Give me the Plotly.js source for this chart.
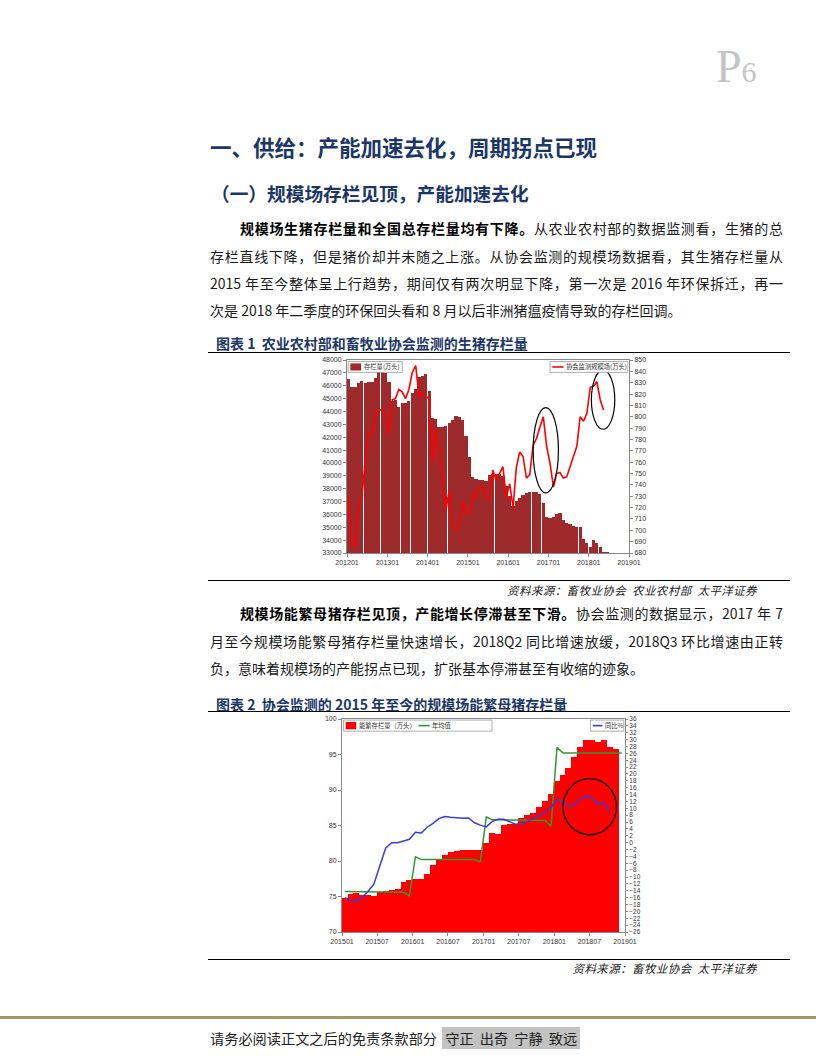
<!DOCTYPE html>
<html><head><meta charset="utf-8">
<script src="https://cdn.plot.ly/plotly-3.0.1.min.js"></script>
<style>
body{margin:0;background:#fff;}
#page{position:relative;width:816px;height:1056px;overflow:hidden;font-family:"Noto Sans CJK SC",sans-serif;color:#111;}
.abs{position:absolute;white-space:nowrap;}
.h1{left:210px;top:132px;font-size:21.5px;font-weight:700;color:#1b3768;line-height:30px;}
.h2{left:211px;top:180px;font-size:18.7px;font-weight:700;color:#1b3768;line-height:26px;}
.p{position:absolute;left:210px;width:573px;font-size:14px;line-height:20px;text-align:justify;text-align-last:justify;color:#1a1a1a;}
.p.last{text-align-last:left;}
.p.ind{left:240px;width:543px;}
.p b{font-weight:700;color:#000;}
.figt{left:216px;font-size:14px;font-weight:700;color:#1b3768;line-height:18px;}
.rule{position:absolute;left:208px;width:582px;height:1px;background:#000;}
.src{right:59px;font-size:11.5px;font-style:italic;line-height:14px;color:#222;letter-spacing:0.4px;}
.chart{position:absolute;}
</style>
</head><body>
<div id="page">
  <div class="abs" style="left:716px;top:40px;font-family:'Liberation Serif',serif;color:#c4c4c4;"><span style="font-size:46px;">P</span><span style="font-size:30px;">6</span></div>

  <div class="abs h1">一、供给：产能加速去化，周期拐点已现</div>
  <div class="abs h2">（一）规模场存栏见顶，产能加速去化</div>

  <div class="p ind" style="top:218px;"><b>规模场生猪存栏量和全国总存栏量均有下降。</b>从农业农村部的数据监测看，生猪的总</div>
  <div class="p" style="top:246px;">存栏直线下降，但是猪价却并未随之上涨。从协会监测的规模场数据看，其生猪存栏量从</div>
  <div class="p" style="top:273px;">2015 年至今整体呈上行趋势，期间仅有两次明显下降，第一次是 2016 年环保拆迁，再一</div>
  <div class="p last" style="top:300px;">次是 2018 年二季度的环保回头看和 8 月以后非洲猪瘟疫情导致的存栏回调。</div>

  <div class="abs figt" style="top:334px;">图表 1&nbsp; 农业农村部和畜牧业协会监测的生猪存栏量</div>
  <div class="rule" style="top:352px;"></div>
  <div id="c1" class="chart" style="left:295px;top:352px;width:370px;height:223px;"></div>
  <div class="rule" style="top:580px;"></div>
  <div class="abs src" style="top:583px;">资料来源：畜牧业协会&nbsp; 农业农村部&nbsp; 太平洋证券</div>

  <div class="p ind" style="top:603px;"><b>规模场能繁母猪存栏见顶，产能增长停滞甚至下滑。</b>协会监测的数据显示，2017 年 7</div>
  <div class="p" style="top:631px;">月至今规模场能繁母猪存栏量快速增长，2018Q2 同比增速放缓，2018Q3 环比增速由正转</div>
  <div class="p last" style="top:658px;">负，意味着规模场的产能拐点已现，扩张基本停滞甚至有收缩的迹象。</div>

  <div class="abs figt" style="top:695px;">图表 2&nbsp; 协会监测的 2015 年至今的规模场能繁母猪存栏量</div>
  <div class="rule" style="top:711px;"></div>
  <div id="c2" class="chart" style="left:290px;top:713px;width:370px;height:242px;"></div>
  <div class="rule" style="top:959px;"></div>
  <div class="abs src" style="top:961px;">资料来源：畜牧业协会&nbsp; 太平洋证券</div>

  <div style="position:absolute;left:0;top:1016px;width:816px;height:3px;background:#a39668;"></div>
  <div class="abs" style="left:210px;top:1028px;font-size:14.2px;line-height:20px;color:#222;">请务必阅读正文之后的免责条款部分 <span style="background:#c2c2c2;padding:1px 3px;margin-left:2px;word-spacing:3px;">守正 出奇 宁静 致远</span></div>
</div>
<script>
// ---------- Chart 1 data ----------
const start1 = [2012, 1];
const hogStockMoA = [
  46500, 45900, 45900, 46250, 46350, 46200, 46300, 46300, 46600, 47170, 47200, 47000,
  46300, 44830, 44900, 44320, 44630, 44670, 44800, 45400, 45720, 46650, 46750, 46900,
  45600, 43460, 43400, 42800, 42800, 42850, 43120, 43370, 43640, 43600, 43370, 42085,
  40480, 38920, 38740, 38710, 38710, 38600, 39050, 39130, 39130, 39130, 38970, 38200,
  37420, 36640, 37050, 37240, 37490, 37670, 37720, 37740, 37740, 37600, 36850, 35800,
  35700, 35780, 36070, 36120, 35550, 35350, 35240, 35080, 35030, 35030, 34120, 33740,
  33470, 33990, 33790, 33470, 33080, 33050
];
const hogStockScaleFarm = [
  728, 686.5, 688, 722, 729, 763, 785, 785, 805, 806, 806, 803,
  785, 815, 816, 824, 822, 816, 824, 839, 845, 818, 820, 818,
  816, 760, 790, 771, 747, 717, 735, 703, 700, 706, 726, 715,
  715, 732, 729, 738, 738, 729, 727, 753, 744, 750, 756, 729,
  741, 720, 755, 769, 765, 746, 749, 775, 781, 791, 800, 774,
  759, 738, 750, 751, 746, 747, 755, 765, 774, 800, 796, 803,
  826, 827, 831, 815, 806
];
const c1Names = ['存栏量(万头)', '协会监测规模场(万头)'];

// ---------- Chart 2 data ----------
const start2 = [2015, 1];
const sowStock = [
  74.8, 75.3, 75.5, 75.2, 75.2, 75.1, 75.6, 75.8, 75.9, 76.0, 77.1, 77.3,
  77.4, 77.5, 78.2, 79.4, 80.2, 80.8, 81.3, 81.4, 81.5, 81.5, 81.6, 81.6,
  82.5, 83.9, 83.8, 85.1, 85.2, 85.2, 86.0, 86.5, 86.8, 87.6, 88.5, 89.4,
  91.2, 92.1, 93.1, 94.7, 96.0, 97.1, 97.0, 96.8, 97.1, 96.0, 95.8
];
const annualAvg = [
  75.7, 75.7, 75.7, 75.7, 75.7, 75.7, 75.7, 75.7, 75.7, 75.7, 75.6, 75.1,
  80.6, 80.2, 80.2, 80.2, 80.2, 80.2, 80.2, 80.2, 80.2, 80.2, 80.2, 79.9,
  86.2, 85.8, 85.8, 85.8, 85.8, 85.8, 85.8, 85.8, 85.8, 85.8, 85.7, 84.9,
  96.0, 95.2, 95.2, 95.2, 95.2, 95.2, 95.2, 95.2, 95.2, 95.2, 95.2, 95.2
];
const yoyPct = [
  -16.0, -16.8, -17.0, -15.8, -14.2, -12.0, -6.8, -1.5, 0.0, 0.0, 0.5, 1.0,
  3.0, 2.8, 4.5, 5.6, 7.0, 7.6, 7.4, 7.2, 7.1, 7.2, 5.8, 5.1,
  4.6, 6.2, 6.8, 6.8, 6.0, 5.4, 5.5, 6.2, 7.0, 7.9, 8.8, 10.2,
  12.6, 12.0, 10.6, 11.0, 12.7, 13.6, 12.8, 11.3, 11.4, 9.2
];
const c2Names = ['能繁存栏量（万头）', '年均值', '同比%'];

function monthSeq(start, n) {
  const out = [];
  let y = start[0], m = start[1];
  for (let i = 0; i < n; i++) {
    out.push(y + '-' + String(m).padStart(2, '0') + '-15');
    m++; if (m > 12) { m = 1; y++; }
  }
  return out;
}
const DAY = 86400000;
const axisFont = {family: 'Liberation Sans, Arial, sans-serif', size: 7, color: '#333'};
const legFont = {family: 'Noto Sans CJK SC, sans-serif', size: 6.3, color: '#333'};

// compact legend boxes (drawn in paper coordinates, like the original's small inset legends)
function legendBox(box, items, shapes, annos) {
  shapes.push({type: 'rect', xref: 'paper', yref: 'paper', x0: box[0], x1: box[1], y0: box[2], y1: box[3],
    fillcolor: '#fff', line: {color: '#999', width: 0.8}, layer: 'above'});
  const yc = (box[2] + box[3]) / 2;
  const h = box[3] - box[2];
  items.forEach(it => {
    if (it.kind === 'rect') {
      shapes.push({type: 'rect', xref: 'paper', yref: 'paper', x0: it.s0, x1: it.s1,
        y0: yc - h * 0.33, y1: yc + h * 0.33, fillcolor: it.color, line: {width: 0}, layer: 'above'});
    } else {
      shapes.push({type: 'line', xref: 'paper', yref: 'paper', x0: it.s0, x1: it.s1, y0: yc, y1: yc,
        line: {color: it.color, width: 1.6}, layer: 'above'});
    }
    annos.push({xref: 'paper', yref: 'paper', x: it.t, y: yc, xanchor: 'left', yanchor: 'middle',
      text: it.name, showarrow: false, font: legFont});
  });
}

// ---------- Chart 1 ----------
const x1 = monthSeq(start1, hogStockMoA.length);
const sh1 = [
  {type: 'circle', xref: 'x', yref: 'y2', x0: '2016-08-15', x1: '2017-04-01', y0: 733, y1: 808,
   line: {color: '#000', width: 1.2}},
  {type: 'circle', xref: 'x', yref: 'y2', x0: '2018-01-25', x1: '2018-08-25', y0: 789, y1: 841,
   line: {color: '#000', width: 1.2}}
];
const an1 = [];
legendBox([0.004, 0.196, 0.936, 0.992],
  [{kind: 'rect', color: '#9e2a2b', s0: 0.012, s1: 0.05, t: 0.052, name: c1Names[0]}], sh1, an1);
legendBox([0.72, 0.996, 0.936, 0.992],
  [{kind: 'line', color: '#ff0000', s0: 0.728, s1: 0.768, t: 0.77, name: c1Names[1]}], sh1, an1);

Plotly.newPlot('c1', [
  {type: 'bar', x: x1, y: hogStockMoA, name: c1Names[0], width: 29 * DAY,
   marker: {color: '#9e2a2b', line: {width: 0}}},
  {type: 'scatter', mode: 'lines', x: x1.slice(0, hogStockScaleFarm.length), y: hogStockScaleFarm,
   yaxis: 'y2', name: c1Names[1], line: {color: '#ff0000', width: 1.6}}
], {
  width: 370, height: 223, margin: {l: 52, r: 36, t: 8, b: 22},
  showlegend: false,
  paper_bgcolor: 'rgba(0,0,0,0)', plot_bgcolor: '#fff', font: axisFont,
  xaxis: {type: 'date', range: ['2012-01-01', '2019-01-01'], tick0: '2012-01-01', dtick: 'M12',
    tickformat: '%Y%m', ticks: 'outside', ticklen: 3, tickcolor: '#888', showline: true,
    linecolor: '#888', mirror: true, showgrid: false, tickfont: axisFont},
  yaxis: {range: [33000, 48000], dtick: 1000, tickformat: 'd', ticks: 'outside', ticklen: 3,
    tickcolor: '#888', showline: true, linecolor: '#888', showgrid: false, zeroline: false,
    tickfont: axisFont},
  yaxis2: {overlaying: 'y', side: 'right', range: [680, 850], dtick: 10, ticks: 'outside', ticklen: 3,
    tickcolor: '#888', showline: true, linecolor: '#888', showgrid: false, zeroline: false,
    tickfont: axisFont},
  bargap: 0,
  shapes: sh1,
  annotations: an1
}, {staticPlot: true});

// ---------- Chart 2 ----------
const x2 = monthSeq(start2, annualAvg.length);
const sh2 = [
  {type: 'circle', xref: 'x', yref: 'y', x0: '2018-02-15', x1: '2018-11-18', y0: 83.7, y1: 91.6,
   line: {color: '#000', width: 1.3}}
];
const an2 = [];
legendBox([0.005, 0.53, 0.943, 0.995],
  [{kind: 'rect', color: '#ff0000', s0: 0.013, s1: 0.05, t: 0.054, name: c2Names[0]},
   {kind: 'line', color: '#2e9a2e', s0: 0.27, s1: 0.31, t: 0.312, name: c2Names[1]}], sh2, an2);
legendBox([0.878, 0.996, 0.943, 0.995],
  [{kind: 'line', color: '#3b3bd6', s0: 0.886, s1: 0.92, t: 0.922, name: c2Names[2]}], sh2, an2);

Plotly.newPlot('c2', [
  {type: 'bar', x: x2.slice(0, sowStock.length), y: sowStock, name: c2Names[0], width: 31 * DAY,
   marker: {color: '#ff0000', line: {width: 0}}},
  {type: 'scatter', mode: 'lines', x: x2, y: annualAvg, name: c2Names[1],
   line: {color: '#2e9a2e', width: 1.5}},
  {type: 'scatter', mode: 'lines', x: x2.slice(0, yoyPct.length), y: yoyPct, yaxis: 'y2', name: c2Names[2],
   line: {color: '#3b3bd6', width: 1.5}}
], {
  width: 370, height: 242, margin: {l: 52, r: 35, t: 6, b: 23},
  showlegend: false,
  paper_bgcolor: 'rgba(0,0,0,0)', plot_bgcolor: '#fff', font: axisFont,
  xaxis: {type: 'date', range: ['2015-01-01', '2019-01-01'], tick0: '2015-01-01', dtick: 'M6',
    tickformat: '%Y%m', ticks: 'outside', ticklen: 3, tickcolor: '#888', showline: true,
    linecolor: '#888', mirror: true, showgrid: false, tickfont: axisFont},
  yaxis: {range: [70, 100], dtick: 5, ticks: 'outside', ticklen: 3, tickcolor: '#888',
    showline: true, linecolor: '#888', showgrid: false, zeroline: false, tickfont: axisFont},
  yaxis2: {overlaying: 'y', side: 'right', range: [-26, 36], dtick: 2, ticks: 'outside', ticklen: 2,
    tickcolor: '#888', showline: true, linecolor: '#888', showgrid: false, zeroline: false,
    tickfont: {family: 'Liberation Sans, Arial, sans-serif', size: 6.5, color: '#333'}},
  bargap: 0,
  shapes: sh2,
  annotations: an2
}, {staticPlot: true});
</script>
</body></html>
